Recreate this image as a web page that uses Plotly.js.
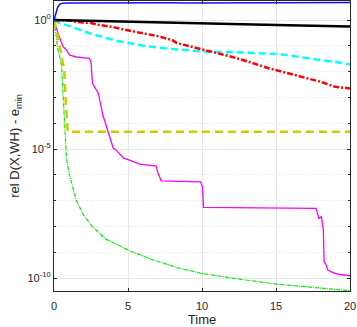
<!DOCTYPE html>
<html>
<head>
<meta charset="utf-8">
<script src="https://cdn.plot.ly/plotly-3.0.1.min.js"></script>
<style>
  html, body { margin: 0; padding: 0; background: #fff; }
  #myDiv { width: 357px; height: 327px; }
</style>
</head>
<body>
<div id="myDiv"></div>
<script>
// values, as log10 of rel D(X,WH) - e_min
var blueT = [0, 0.1, 0.25, 0.4, 0.6, 1, 2, 3, 4, 5, 6, 7, 8, 9, 10, 11, 12, 13, 14, 15, 16, 17, 18, 19, 20];
var blueL = [0, 0.25, 0.5, 0.62, 0.655, 0.66, 0.665, 0.66, 0.668, 0.662, 0.67, 0.664, 0.672, 0.666, 0.67, 0.675, 0.668, 0.674, 0.67, 0.678, 0.672, 0.68, 0.676, 0.68, 0.685];

var blackT = [0, 5, 10, 15, 20];
var blackL = [0, -0.07, -0.13, -0.19, -0.245];

var redT = [0, 1, 1.5, 2.5, 3.1, 4, 4.9, 6.2, 7, 8, 8.3, 10, 11, 12, 13.2, 14.4, 15.6, 16.8, 18, 19, 20];
var redL = [0, -0.02, -0.066, -0.116, -0.194, -0.271, -0.388, -0.516, -0.62, -0.775, -0.891, -1.136, -1.279, -1.422, -1.624, -1.849, -2.03, -2.22, -2.39, -2.585, -2.647];

var cyanT = [0, 0.3, 1.06, 2.5, 4.2, 6.2, 8, 10.3, 12.5, 15.3, 16.8, 18.4, 20];
var cyanL = [0, -0.097, -0.233, -0.53, -0.8, -1.01, -1.12, -1.23, -1.25, -1.32, -1.45, -1.59, -1.71];

var yellowT = [0, 0.25, 0.5, 0.7, 0.8, 0.88, 0.93, 20];
var yellowL = [0, -0.6, -1.35, -2.0, -3.2, -3.95, -4.33, -4.33];

var magentaT = [0, 0.27, 0.61, 0.84, 1.06, 1.5, 2.4, 2.5, 2.6, 3.0, 3.3, 3.8, 4.0, 4.2, 4.7, 5.1, 5.8, 6.9, 7.03, 7.25, 9.9, 10.03, 10.1, 17.7, 17.9, 18.07, 18.2, 18.25, 18.4, 18.5, 18.85, 19.3, 20];
var magentaL = [0, -0.5, -1.03, -1.16, -1.36, -1.43, -1.48, -1.63, -2.45, -2.84, -3.68, -4.65, -4.96, -5.04, -5.35, -5.43, -5.58, -5.66, -5.94, -6.23, -6.27, -6.46, -7.26, -7.3, -7.69, -7.62, -8.14, -9.37, -9.5, -9.69, -9.79, -9.86, -9.91];

var greenT = [0, 0.1, 0.27, 0.39, 0.5, 0.61, 0.72, 0.84, 1.0, 1.5, 2.0, 2.6, 3.5, 5, 6.5, 8.5, 10, 12.5, 15, 17.5, 20];
var greenL = [0, -0.5, -1.16, -1.43, -1.74, -2.83, -4.14, -5.35, -5.9, -6.98, -7.56, -8.01, -8.49, -8.91, -9.26, -9.62, -9.82, -10.04, -10.23, -10.37, -10.49];

var yTickVals = [1e-10, 1e-5, 1];
var yTickText = ['10<sup>-10</sup>', '10<sup>-5</sup>', '10<sup>0</sup>'];
var yMinorVals = [1e-9, 1e-8, 1e-7, 1e-6, 1e-4, 1e-3, 1e-2, 1e-1];

function pow10(arr) { return arr.map(function (v) { return Math.pow(10, v); }); }

var traces = [
  {x: greenT, y: pow10(greenL), mode: 'lines', line: {color: '#00ee00', width: 1.2, dash: '4px,1px,1px,1px'}},
  {x: magentaT, y: pow10(magentaL), mode: 'lines', line: {color: '#ff00ff', width: 1.3}},
  {x: yellowT, y: pow10(yellowL), mode: 'lines', line: {color: '#cccc00', width: 2.5, dash: '8px,5px'}},
  {x: cyanT, y: pow10(cyanL), mode: 'lines', line: {color: '#00ffff', width: 2.5, dash: '7px,4px'}},
  {x: redT, y: pow10(redL), mode: 'lines', line: {color: '#ff0000', width: 2.5, dash: '6px,2px,2px,2px'}},
  {x: blackT, y: pow10(blackL), mode: 'lines', line: {color: '#000000', width: 2.5}},
  {x: blueT, y: pow10(blueL), mode: 'lines', line: {color: '#1010ff', width: 1.5}}
];

var tickFont = {family: 'Liberation Sans, Arial, sans-serif', size: 11, color: '#262626'};
var titleFont = {family: 'Liberation Sans, Arial, sans-serif', size: 13, color: '#262626'};

var layout = {
  width: 357,
  height: 327,
  margin: {l: 54, r: 7, t: 1, b: 36},
  showlegend: false,
  paper_bgcolor: '#ffffff',
  plot_bgcolor: '#ffffff',
  font: tickFont,
  xaxis: {
    range: [0, 20],
    dtick: 5,
    ticks: 'inside',
    ticklen: 3,
    tickcolor: '#262626',
    tickfont: tickFont,
    ticklabelstandoff: 5,
    showline: true,
    linecolor: '#262626',
    linewidth: 1,
    mirror: 'ticks',
    showgrid: true,
    gridcolor: '#e6e6e6',
    zeroline: false,
    title: {text: 'Time', font: titleFont, standoff: 5}
  },
  yaxis: {
    type: 'log',
    range: [-10.5, 0.74],
    tickmode: 'array',
    tickvals: yTickVals,
    ticktext: yTickText,
    ticks: 'inside',
    ticklen: 3,
    tickcolor: '#262626',
    tickfont: tickFont,
    showline: true,
    linecolor: '#262626',
    linewidth: 1,
    mirror: 'ticks',
    showgrid: true,
    gridcolor: '#e6e6e6',
    zeroline: false,
    minor: {
      tickmode: 'array',
      tickvals: yMinorVals,
      ticks: 'inside',
      ticklen: 2,
      tickcolor: '#262626',
      showgrid: true,
      gridcolor: '#e0e0e0',
      griddash: '1px,2px'
    },
    title: {text: 'rel D(X,WH) - e<sub>min</sub>', font: titleFont, standoff: 4}
  }
};

Plotly.newPlot('myDiv', traces, layout, {staticPlot: true});
</script>
</body>
</html>
